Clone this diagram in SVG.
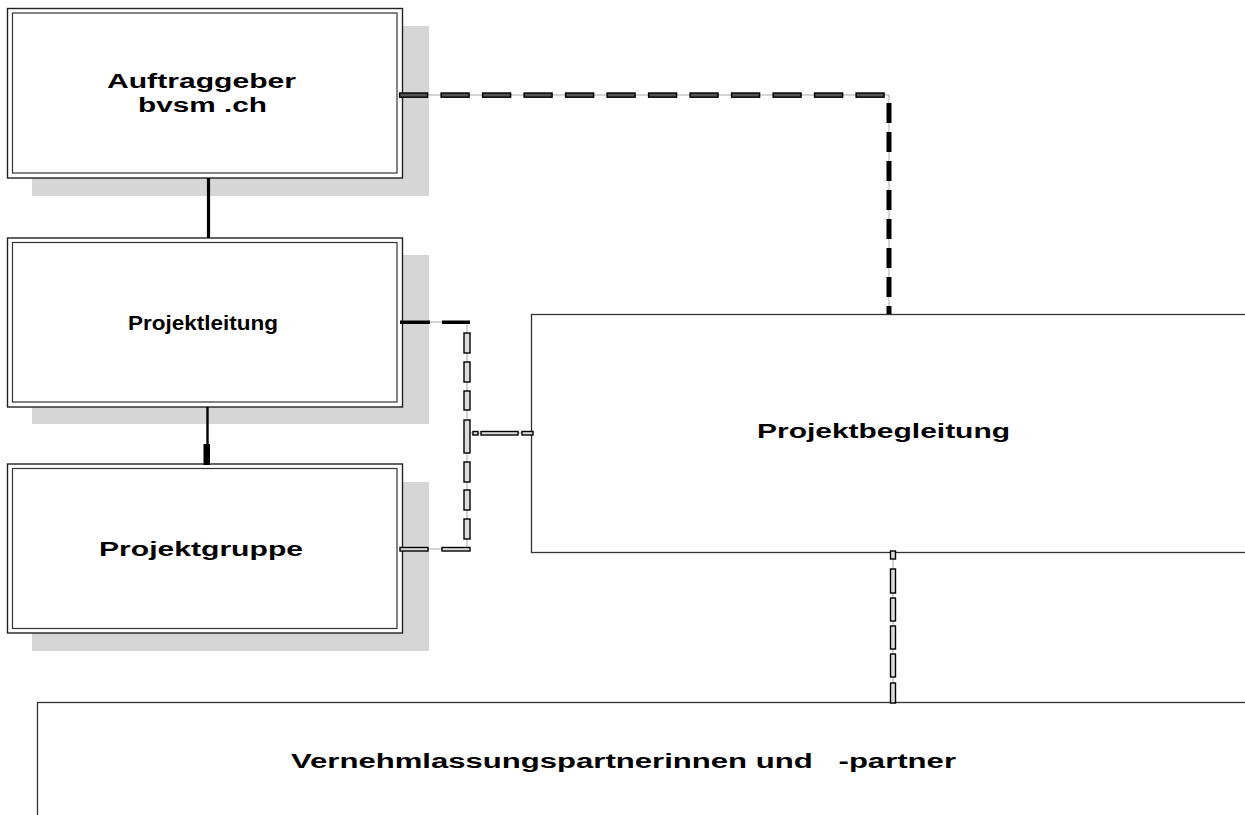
<svg xmlns="http://www.w3.org/2000/svg" width="1245" height="815" viewBox="0 0 1245 815">
<style>
.bg{fill:#fff}
.sh{fill:#d6d6d6}
.outer{fill:#fff;stroke:#222;stroke-width:1.4}
.inner{fill:none;stroke:#333;stroke-width:1.2}
.frame{fill:#fff;stroke:#333;stroke-width:1.3}
.lbl{font-family:"Liberation Sans",Arial,sans-serif;font-weight:bold;font-size:20px;fill:#000}
.guide{fill:none;stroke:#aaa;stroke-width:1}
.td{fill:#555;stroke:#000;stroke-width:1.4}
.vd{fill:none;stroke:#000;stroke-width:5;stroke-dasharray:20 9}
.sd{fill:#000}
.od{fill:#dcdcdc;stroke:#000;stroke-width:1.4}
</style>
<rect class="bg" x="0" y="0" width="1245" height="815"/>

<g id="node-auftraggeber">
<rect class="sh" x="32" y="26" width="397" height="170"/>
<rect class="outer" x="7.5" y="8.5" width="395" height="169.5"/>
<rect class="inner" x="12.5" y="13" width="384.5" height="160"/>
<text class="lbl" x="107" y="88" textLength="189" lengthAdjust="spacingAndGlyphs">Auftraggeber</text>
<text class="lbl" x="138" y="112" textLength="129" lengthAdjust="spacingAndGlyphs">bvsm .ch</text>
</g>

<g id="node-projektleitung">
<rect class="sh" x="32" y="255" width="397" height="169"/>
<rect class="outer" x="7.5" y="238" width="395" height="169"/>
<rect class="inner" x="12.5" y="242.5" width="384.5" height="159.5"/>
<text class="lbl" x="128" y="330" textLength="150" lengthAdjust="spacingAndGlyphs" style="font-size:21px">Projektleitung</text>
</g>

<g id="node-projektgruppe">
<rect class="sh" x="32" y="482" width="397" height="169"/>
<rect class="outer" x="7.5" y="464" width="395" height="169"/>
<rect class="inner" x="12.5" y="468.5" width="384.5" height="160"/>
<text class="lbl" x="99" y="556" textLength="204" lengthAdjust="spacingAndGlyphs">Projektgruppe</text>
</g>

<g id="node-projektbegleitung">
<rect class="frame" x="531.5" y="314.5" width="800" height="238"/>
<text class="lbl" x="757" y="438" textLength="253" lengthAdjust="spacingAndGlyphs">Projektbegleitung</text>
</g>

<g id="node-vernehmlassung">
<rect class="frame" x="37.5" y="702.5" width="1300" height="200"/>
<text class="lbl" x="291" y="768" textLength="665" lengthAdjust="spacingAndGlyphs" xml:space="preserve">Vernehmlassungspartnerinnen und   -partner</text>
</g>

<g id="connectors">
<line x1="208.5" y1="178" x2="208.5" y2="238" stroke="#000" stroke-width="3.2"/>
<line x1="207.5" y1="407" x2="207.5" y2="445" stroke="#000" stroke-width="2.4"/>
<rect class="sd" x="203.5" y="444" width="6.5" height="21"/>

<path class="guide" d="M399,95 H889 V314"/>
<rect class="td" x="399.6" y="93" width="28" height="4.2"/>
<rect class="td" x="441.1" y="93" width="28" height="4.2"/>
<rect class="td" x="482.6" y="93" width="28" height="4.2"/>
<rect class="td" x="524.1" y="93" width="28" height="4.2"/>
<rect class="td" x="565.6" y="93" width="28" height="4.2"/>
<rect class="td" x="607.1" y="93" width="28" height="4.2"/>
<rect class="td" x="648.6" y="93" width="28" height="4.2"/>
<rect class="td" x="690.1" y="93" width="28" height="4.2"/>
<rect class="td" x="731.6" y="93" width="28" height="4.2"/>
<rect class="td" x="773.1" y="93" width="28" height="4.2"/>
<rect class="td" x="814.6" y="93" width="28" height="4.2"/>
<rect class="td" x="856.1" y="93" width="28" height="4.2"/>
<path class="vd" d="M889,103 V314"/>

<path class="guide" d="M400,322 H467 V549 H400 M467,433 H532"/>
<rect class="sd" x="400" y="320.5" width="30" height="3.5"/>
<rect class="sd" x="442" y="320.5" width="28" height="3.5"/>
<rect class="od" x="464" y="333" width="6" height="20"/>
<rect class="od" x="464" y="362" width="6" height="20"/>
<rect class="od" x="464" y="391" width="6" height="19"/>
<rect class="od" x="464" y="420" width="6" height="33"/>
<rect class="od" x="464" y="462" width="6" height="20"/>
<rect class="od" x="464" y="490" width="6" height="20"/>
<rect class="od" x="464" y="519" width="6" height="20"/>
<rect class="od" x="473" y="431.5" width="5" height="3.5"/>
<rect class="od" x="481" y="431.5" width="37" height="3.5"/>
<rect class="od" x="522" y="431.5" width="11" height="3.5"/>
<rect class="od" x="400" y="547.5" width="28" height="3.5"/>
<rect class="od" x="442" y="547.5" width="28" height="3.5"/>

<path class="guide" d="M893,552 V702"/>
<rect class="od" x="890.5" y="551" width="5" height="8"/>
<rect class="od" x="890.5" y="569" width="5" height="24"/>
<rect class="od" x="890.5" y="598" width="5" height="23"/>
<rect class="od" x="890.5" y="626" width="5" height="23"/>
<rect class="od" x="890.5" y="654" width="5" height="23"/>
<rect class="od" x="890.5" y="683" width="5" height="20"/>
</g>
</svg>
